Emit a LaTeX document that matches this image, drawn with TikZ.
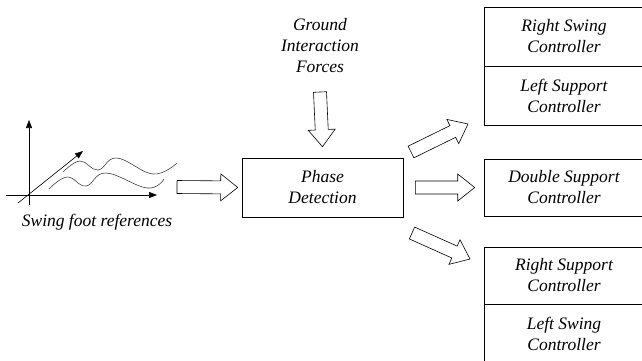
\documentclass[tikz,border=0pt]{standalone}
\usepackage{fontspec}
\setmainfont{Liberation Serif}
\usetikzlibrary{arrows.meta,calc}

\tikzset{
  ctrl/.style={draw,minimum width=160,minimum height=59,align=center,inner sep=0pt},
  blockarrow/.style={draw,line width=0.6pt,to path={
    let \p1=($(\tikztotarget)!17pt!(\tikztostart)$) in
    ($(\tikztostart)!6.5pt!90:(\tikztotarget)$) -- ($(\p1)!6.5pt!90:(\tikztotarget)$)
    -- ($(\p1)!13.5pt!90:(\tikztotarget)$) -- (\tikztotarget)
    -- ($(\p1)!13.5pt!-90:(\tikztotarget)$) -- ($(\p1)!6.5pt!-90:(\tikztotarget)$)
    -- ($(\tikztostart)!6.5pt!-90:(\tikztotarget)$) -- cycle}}
}

\begin{document}
\begin{tikzpicture}[x=1pt,y=-1pt,>={Triangle[length=8pt,width=6pt]},line width=0.6pt,
  font=\itshape\fontsize{17.5}{21}\selectfont]
\useasboundingbox (0,0) rectangle (642,360);
\clip (0,0) rectangle (642,360);
% sketch of the foot references
\draw[->] (29,205) -- (29,120);
\draw[->] (6,195) -- (157,195);
\draw[->] (18,203) -- (83,151);
\draw[black!75] plot[smooth,tension=0.7] coordinates {(63,172) (80,161) (98,170) (117,158) (153,174) (177,163)};
\draw[black!75] plot[smooth,tension=0.7] coordinates {(49,189) (67,177) (86,186) (106,173) (147,188) (164,179)};
\node (refs) at (97,222) {Swing foot references};
\coordinate (refsout) at (177,187);
% blocks
\node (ground) at (320,46) [align=center] {Ground\\Interaction\\Forces};
\node[ctrl,minimum width=161] (phase) at (322.5,187.5) {Phase\\Detection};
\node[ctrl] (rsw) at (564,36.5) {Right Swing\\Controller};
\node[ctrl] (lsu) at (564,95.5) {Left Support\\Controller};
\node[ctrl,minimum height=57] (dsu) at (564,187.5) {Double Support\\Controller};
\node[ctrl,minimum height=57] (rsu) at (564,275.5) {Right Support\\Controller};
\node[ctrl] (lsw) at (564,333.5) {Left Swing\\Controller};
% block arrows
\coordinate (gs) at (320,92);
\coordinate (upS) at (411,152);
\coordinate (upE) at (468,124);
\coordinate (dnS) at (412,233);
\coordinate (dnE) at (470,259);
\draw[blockarrow] (refsout) to ([xshift=-4pt]phase.west);
\draw[blockarrow] (gs) to ([yshift=11pt]phase.north);
\draw[blockarrow] ([xshift=12pt]phase.east) to ([xshift=-9pt]dsu.west);
\draw[blockarrow] (upS) to (upE);
\draw[blockarrow] (dnS) to (dnE);
\end{tikzpicture}
\end{document}
